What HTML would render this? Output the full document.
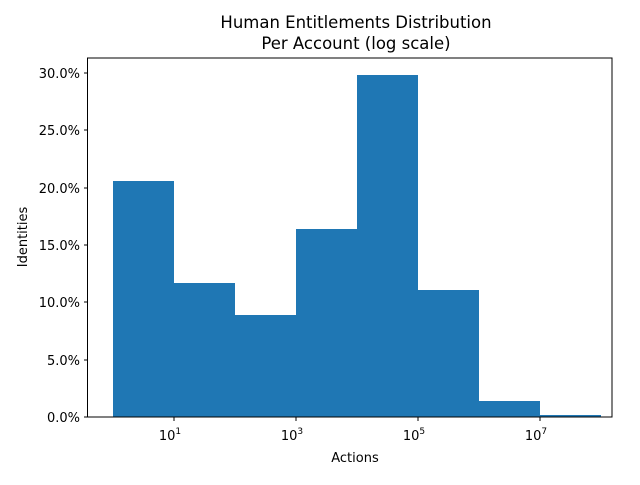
<!DOCTYPE html>
<html><head><style>body{margin:0;background:#fff}</style></head><body>
<svg width="640" height="480" xmlns="http://www.w3.org/2000/svg" font-family="'DejaVu Sans', 'Liberation Sans', sans-serif">
<rect width="640" height="480" fill="#fff"/>
<g fill="#1f77b4">
<rect x="113" y="181" width="61" height="236"/>
<rect x="174" y="283" width="61" height="134"/>
<rect x="235" y="315" width="61" height="102"/>
<rect x="296" y="229" width="61" height="188"/>
<rect x="357" y="75" width="61" height="342"/>
<rect x="418" y="290" width="61" height="127"/>
<rect x="479" y="401" width="61" height="16"/>
<rect x="540" y="415" width="61" height="2"/>
</g>
<rect x="87.5" y="58" width="524.5" height="359" fill="none" stroke="#000" stroke-width="1"/>
<g stroke="#000">
<line x1="174" y1="417" x2="174" y2="421"/>
<line x1="296" y1="417" x2="296" y2="421"/>
<line x1="418" y1="417" x2="418" y2="421"/>
<line x1="540" y1="417" x2="540" y2="421"/>
<line x1="84" y1="417" x2="88" y2="417"/>
<line x1="84" y1="360" x2="88" y2="360"/>
<line x1="84" y1="302" x2="88" y2="302"/>
<line x1="84" y1="245" x2="88" y2="245"/>
<line x1="84" y1="188" x2="88" y2="188"/>
<line x1="84" y1="130" x2="88" y2="130"/>
<line x1="84" y1="73" x2="88" y2="73"/>
</g>
<g font-size="13" text-anchor="middle">
<text x="170" y="440">10<tspan font-size="9" dy="-6">1</tspan></text>
<text x="292" y="440">10<tspan font-size="9" dy="-6">3</tspan></text>
<text x="414" y="440">10<tspan font-size="9" dy="-6">5</tspan></text>
<text x="536" y="440">10<tspan font-size="9" dy="-6">7</tspan></text>
<text x="355" y="462">Actions</text>
</g>
<g font-size="13" text-anchor="end">
<text x="80" y="422">0.0%</text>
<text x="80" y="365">5.0%</text>
<text x="80" y="307">10.0%</text>
<text x="80" y="250">15.0%</text>
<text x="80" y="193">20.0%</text>
<text x="80" y="135">25.0%</text>
<text x="80" y="78">30.0%</text>
</g>
<text x="0" y="0" font-size="13" text-anchor="middle" transform="translate(27,237) rotate(-90)">Identities</text>
<g font-size="16.5" text-anchor="middle">
<text x="356" y="28">Human Entitlements Distribution</text>
<text x="356" y="49">Per Account (log scale)</text>
</g>
</svg>
</body></html>
